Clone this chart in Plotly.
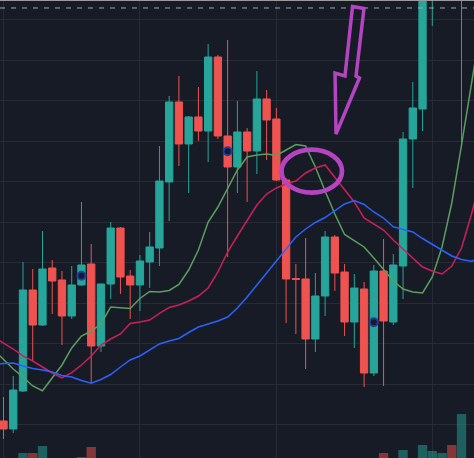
import plotly.graph_objs as go

# candles, one per bar index
bar_idx = list(range(0, 49))
open_ = [100.99, 99.01, 108.38, 133.29, 124.66, 138.72, 135.76, 126.88, 134.53, 139.70,
         119.48, 134.77, 148.58, 136.74, 134.53, 140.20, 143.65, 159.93, 179.66, 169.30,
         175.96, 172.50, 190.75, 171.27, 163.63, 172.26, 167.57, 180.40, 175.46, 160.42,
         136.13, 136.01, 121.21, 131.81, 146.36, 137.73, 125.40, 133.54, 112.82, 137.98,
         125.40, 139.21, 170.53, 177.93, 212.21, 227.00, 241.80, 224.54, 246.73]
high = [106.91, 112.08, 140.20, 138.47, 147.84, 140.69, 137.98, 139.21, 154.99, 144.64,
        134.89, 150.06, 148.83, 138.22, 141.92, 147.60, 168.80, 181.14, 186.07, 176.20,
        183.35, 193.96, 191.25, 194.94, 179.90, 173.24, 187.30, 182.61, 178.18, 160.91,
        139.70, 146.12, 137.48, 147.84, 146.86, 139.70, 137.24, 135.27, 139.46, 145.87,
        142.17, 172.26, 184.59, 224.54, 231.94, 246.73, 251.67, 254.13, 264.00]
low = [96.55, 98.03, 108.14, 115.78, 124.41, 127.37, 119.73, 126.14, 134.28, 110.36,
       118.00, 131.07, 132.31, 126.14, 128.11, 133.79, 139.21, 150.31, 163.87, 157.21,
       170.04, 164.86, 170.53, 141.43, 157.21, 154.99, 161.90, 165.35, 160.17, 125.15,
       122.44, 113.81, 118.00, 126.88, 133.05, 121.95, 118.99, 109.37, 112.08, 109.62,
       124.66, 131.07, 158.45, 172.50, 198.40, 219.61, 224.54, 168.31, 236.87]
close = [99.01, 108.63, 133.29, 124.66, 138.47, 135.51, 126.88, 134.53, 139.46, 119.48,
         134.77, 148.58, 136.50, 134.53, 140.44, 143.90, 160.17, 179.66, 169.30, 175.96,
         172.50, 190.75, 171.27, 163.63, 172.26, 167.57, 180.40, 175.22, 160.42, 136.01,
         135.88, 121.21, 131.81, 146.36, 137.48, 125.40, 133.79, 112.82, 137.98, 125.65,
         139.46, 170.53, 178.18, 219.61, 227.00, 241.80, 231.94, 246.73, 254.13]
volume = [310, 280, 500, 500, 640, 260, 300, 240, 420, 620,
          350, 330, 290, 210, 250, 230, 360, 380, 340, 260,
          220, 370, 350, 390, 300, 240, 330, 280, 310, 380,
          200, 340, 290, 320, 270, 300, 250, 360, 390, 500,
          330, 560, 380, 660, 540, 500, 660, 1280, 390]

# moving averages, starting one bar before the first candle
ma_idx = list(range(-1, 50))
ma_fast = [118.50, 116.03, 113.81, 111.84, 109.62, 108.46, 111.59, 114.80, 118.99, 121.95,
           123.18, 124.91, 129.10, 128.85, 128.73, 131.20, 132.92, 132.80, 133.17, 134.65,
           138.22, 143.16, 150.06, 153.76, 158.45, 162.89, 166.09, 166.58, 166.83, 166.46,
           167.82, 169.17, 168.80, 163.63, 157.71, 152.03, 146.98, 145.38, 143.90, 141.18,
           138.47, 135.51, 133.54, 132.80, 132.55, 136.50, 143.90, 154.75, 169.05, 183.85,
           198.64]
ma_mid = [121.70, 120.22, 118.74, 117.02, 115.78, 114.30, 112.82, 111.59, 112.90, 114.80,
          117.02, 119.73, 121.21, 122.44, 125.03, 125.40, 125.89, 127.50, 128.98, 129.59,
          130.58, 131.81, 133.79, 137.73, 142.66, 146.61, 150.56, 154.25, 156.97, 158.45,
          159.43, 160.17, 162.15, 163.38, 164.12, 161.16, 157.95, 154.99, 151.05, 149.57,
          148.09, 145.62, 143.40, 140.94, 138.96, 137.98, 137.24, 139.21, 143.65, 151.79,
          160.91]
ma_slow = [115.04, 115.17, 115.29, 114.55, 113.93, 113.56, 113.07, 112.21, 111.84, 110.97,
           110.28, 111.22, 112.45, 114.30, 116.03, 117.02, 118.50, 119.98, 120.72, 121.33,
           122.81, 124.17, 124.91, 125.65, 126.63, 128.85, 131.57, 134.53, 137.24, 140.32,
           143.40, 146.36, 148.34, 149.94, 151.17, 152.77, 154.50, 155.36, 154.38, 152.53,
           151.05, 148.90, 148.21, 147.60, 145.99, 144.51, 143.16, 141.68, 140.81, 140.37,
           141.18]

# signal dots
signal_idx = [8, 23, 38]
signal_price = [136.82, 167.50, 125.33]

last_price = 202.84
month_starts = [0, 14, 28, 44]

BG = "#171b26"
UP = "#26a69a"
DOWN = "#ef5350"
PURPLE = "#b444c0"

vol_colors = ["rgba(38,166,154,0.5)" if c >= o else "rgba(239,83,80,0.5)"
              for o, c in zip(open_, close)]

fig = go.Figure()

fig.add_trace(go.Bar(x=bar_idx, y=volume, marker=dict(color=vol_colors, line=dict(width=0)),
                     yaxis="y2", showlegend=False, hoverinfo="skip"))

for vals, col in [(ma_fast, "#5b9f5e"), (ma_mid, "#cc1f5a"), (ma_slow, "#2962ff")]:
    fig.add_trace(go.Scatter(x=ma_idx, y=vals, mode="lines",
                             line=dict(color=col, width=1.5), showlegend=False))

fig.add_trace(go.Candlestick(
    x=bar_idx, open=open_, high=high, low=low, close=close,
    increasing=dict(line=dict(color=UP, width=1), fillcolor=UP),
    decreasing=dict(line=dict(color=DOWN, width=1), fillcolor=DOWN),
    whiskerwidth=0, showlegend=False))

fig.add_trace(go.Scatter(x=signal_idx, y=signal_price, mode="markers",
                         marker=dict(symbol="circle", size=8, color=BG,
                                     line=dict(color="#1d3f9e", width=2)),
                         showlegend=False))

fig.add_hline(y=last_price, line=dict(color="#a3a7b0", width=1, dash="5px,6px"))

# top border
fig.add_shape(type="line", xref="paper", yref="paper", x0=0, x1=1, y0=1, y1=1,
              line=dict(color="#9a9a9a", width=2))


def px(x, y):
    return x / 474, 1 - y / 458


arrow_pts = [(352.5, 6.5), (364, 8.5), (356, 76), (359.5, 78), (336, 134), (335, 73), (345, 76)]
path = ""
for k, (ax, ay) in enumerate(arrow_pts):
    u, v = px(ax, ay)
    path += ("M" if k == 0 else "L") + f"{u:.4f},{v:.4f} "
fig.add_shape(type="path", xref="paper", yref="paper", path=path + "Z",
              line=dict(color=PURPLE, width=3.5), fillcolor="rgba(0,0,0,0)")

e0 = px(281.5, 192.7)
e1 = px(342, 149.7)
fig.add_shape(type="circle", xref="paper", yref="paper",
              x0=e0[0], y0=e0[1], x1=e1[0], y1=e1[1],
              line=dict(color=PURPLE, width=4.7))

fig.update_layout(
    width=474, height=458,
    margin=dict(l=0, r=0, t=0, b=0),
    paper_bgcolor=BG, plot_bgcolor=BG,
    boxgap=0.25, boxgroupgap=0, bargap=0.04,
    xaxis=dict(range=[-0.36, 48.28], tickvals=month_starts, showticklabels=False,
               showgrid=True, gridcolor="#262b36", zeroline=False,
               rangeslider=dict(visible=False), fixedrange=True),
    yaxis=dict(range=[91.86, 204.81], tick0=0, dtick=10, showticklabels=False,
               showgrid=True, gridcolor="#262b36", zeroline=False),
    yaxis2=dict(overlaying="y", range=[400, 9560], visible=False),
)

# the page body has an 8px margin by default; drop it so the chart fills the window
fig.write_html("out.html", config={"displayModeBar": False},
               post_script="document.body.style.margin='0';")
